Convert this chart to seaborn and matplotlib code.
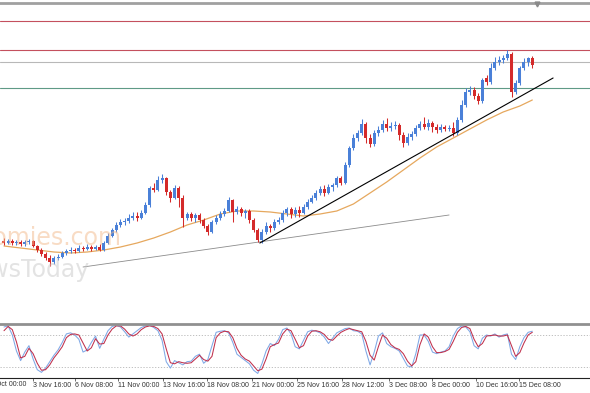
import numpy as np
import pandas as pd
import matplotlib
matplotlib.use("Agg")
import matplotlib.pyplot as plt
import matplotlib.transforms as mtransforms
import seaborn as sns

#%%
# candles (price in points), one per bar

opens = [159, 157, 159, 157, 158, 156, 158, 159, 154, 150,
         146, 142, 138, 142, 143, 147, 149, 150, 149, 152,
         151, 153, 151, 153, 150, 157, 164, 170, 175, 178,
         179, 182, 184, 182, 187, 195, 212, 210, 220, 222,
         208, 202, 212, 202, 182, 186, 182, 185, 180, 174,
         168, 178, 182, 186, 189, 200, 188, 191, 187, 189,
         180, 170, 160, 168, 174, 172, 178, 180, 187, 191,
         186, 190, 187, 193, 198, 202, 207, 211, 207, 213,
         215, 222, 217, 235, 252, 262, 267, 276, 262, 256,
         267, 270, 276, 272, 274, 275, 265, 257, 263, 266,
         272, 276, 273, 277, 273, 270, 273, 271, 272, 267,
         280, 295, 308, 310, 304, 299, 322, 318, 332, 338,
         340, 342, 346, 308, 317, 332, 338, 342]
highs = [162, 161, 161, 160, 160, 160, 161, 160, 155, 152,
         148, 145, 144, 146, 149, 151, 153, 152, 155, 154,
         156, 155, 155, 156, 159, 167, 172, 178, 181, 182,
         186, 188, 188, 190, 198, 214, 217, 224, 226, 223,
         210, 215, 214, 205, 188, 188, 187, 187, 182, 176,
         180, 185, 189, 192, 203, 201, 194, 193, 191, 191,
         182, 172, 171, 178, 176, 181, 183, 190, 193, 193,
         193, 194, 196, 201, 205, 210, 214, 215, 216, 217,
         224, 224, 238, 254, 266, 270, 281, 278, 266, 270,
         274, 280, 282, 278, 279, 277, 268, 267, 269, 275,
         279, 283, 281, 279, 276, 276, 275, 275, 278, 283,
         300, 312, 314, 313, 307, 322, 325, 337, 343, 344,
         345, 350, 348, 320, 334, 342, 343, 344]
lows = [155, 156, 155, 155, 154, 154, 156, 153, 148, 144,
        140, 134, 136, 140, 142, 145, 147, 147, 148, 149,
        150, 149, 150, 149, 149, 156, 163, 168, 173, 175,
        177, 180, 179, 181, 186, 193, 208, 209, 217, 205,
        198, 201, 193, 173, 180, 179, 178, 177, 172, 165,
        167, 176, 180, 184, 188, 178, 186, 184, 182, 177,
        168, 158, 157, 166, 168, 170, 176, 178, 184, 182,
        183, 183, 186, 191, 197, 200, 205, 204, 206, 209,
        213, 215, 216, 233, 250, 259, 265, 257, 253, 254,
        264, 268, 269, 269, 271, 260, 253, 255, 260, 264,
        270, 271, 270, 268, 267, 268, 269, 269, 264, 265,
        278, 293, 305, 301, 296, 297, 315, 316, 330, 335,
        337, 340, 303, 306, 315, 330, 334, 332]
closes = [157, 159, 157, 158, 156, 158, 159, 154, 150, 146,
          142, 138, 142, 143, 147, 149, 150, 149, 152, 151,
          153, 151, 153, 150, 157, 164, 170, 175, 178, 179,
          182, 184, 182, 187, 195, 212, 210, 220, 222, 208,
          202, 212, 202, 182, 186, 182, 185, 180, 174, 168,
          178, 182, 186, 189, 200, 188, 191, 187, 189, 180,
          170, 160, 168, 174, 172, 178, 180, 187, 191, 186,
          190, 187, 193, 198, 202, 207, 211, 207, 213, 215,
          222, 217, 235, 252, 262, 267, 276, 262, 256, 267,
          270, 276, 272, 274, 275, 265, 257, 263, 266, 272,
          276, 273, 277, 273, 270, 273, 271, 272, 267, 280,
          295, 308, 310, 304, 299, 320, 318, 332, 338, 340,
          342, 346, 308, 317, 332, 338, 342, 335]

# moving average (every 4th bar)
ma_bar = [0, 4, 8, 12, 16, 20, 24, 28, 32, 36, 40, 44, 48, 52, 56, 60,
          64, 68, 72, 76, 80, 84, 88, 92, 96, 100, 104, 108, 112, 116, 120, 124, 127]
ma_val = [154, 152, 150, 148, 147, 148, 150, 153, 157, 162, 168, 175, 180, 186, 189, 189,
          188, 186, 184, 186, 189, 196, 207, 218, 230, 242, 253, 262, 271, 280, 288, 294, 300]

# stochastic %K / %D
stoch_k = [95, 97, 80, 50, 32, 48, 60, 35, 15, 10, 18, 30, 42, 52, 66, 82,
           84, 80, 72, 48, 52, 66, 78, 55, 72, 88, 96, 98, 95, 86, 76, 82,
           88, 94, 97, 98, 94, 88, 70, 30, 18, 32, 28, 24, 30, 31, 40, 44,
           27, 34, 60, 85, 87, 88, 84, 66, 44, 38, 32, 26, 14, 8, 26, 50,
           64, 60, 72, 90, 93, 82, 58, 54, 70, 86, 89, 87, 84, 76, 64, 74,
           84, 88, 92, 93, 88, 87, 82, 50, 24, 48, 78, 84, 64, 58, 55, 50,
           36, 22, 20, 45, 80, 80, 68, 48, 45, 48, 50, 58, 78, 92, 97, 95,
           86, 60, 54, 74, 80, 78, 82, 76, 80, 82, 44, 34, 58, 75, 85, 87]
stoch_d = [88, 96, 90, 67, 37, 40, 55, 45, 27, 14, 15, 24, 37, 47, 58, 75,
           81, 82, 80, 65, 50, 56, 73, 63, 64, 80, 91, 97, 97, 91, 82, 78,
           82, 90, 95, 97, 96, 92, 82, 54, 28, 26, 30, 28, 27, 28, 35, 42,
           34, 31, 40, 75, 84, 87, 86, 75, 55, 42, 35, 31, 22, 13, 16, 35,
           58, 62, 65, 82, 91, 88, 72, 56, 60, 78, 87, 88, 86, 81, 72, 70,
           78, 85, 89, 92, 90, 88, 86, 68, 42, 33, 58, 80, 74, 62, 56, 53,
           45, 31, 22, 30, 62, 82, 76, 58, 47, 47, 49, 53, 68, 85, 94, 96,
           92, 72, 58, 64, 78, 79, 80, 78, 78, 80, 60, 40, 47, 65, 80, 85]

tick_pos = [7.0, 17.1, 27.4, 38.2, 48.8, 59.6, 70.4, 81.3, 92.5, 102.9, 113.5, 123.8]
tick_labels = ["3 Nov 16:00", "6 Nov 08:00", "11 Nov 00:00", "13 Nov 16:00",
               "18 Nov 08:00", "21 Nov 00:00", "25 Nov 16:00", "28 Nov 12:00", "3 Dec 08:00",
               "8 Dec 00:00", "10 Dec 16:00", "15 Dec 08:00"]
first_pos = -4.4
first_label = "31 Oct 00:00"

red_levels = [379, 350]
gray_level = 338
green_level = 312
trend_black = ([61.5, 132.0], [157, 322])
trend_gray = ([19.0, 107.0], [133, 185])

#%%

sns.set_style("white")
plt.rcParams['font.family'] = ['Liberation Sans', 'DejaVu Sans']

blue = '#4a80d8'
red = '#d42a2a'

fig = plt.figure(figsize=(5.9, 3.93), dpi=100)
H = 393.0
ax = fig.add_axes([0, 1 - 321 / H, 1, (321 - 2.5) / H])
osc = fig.add_axes([0, 1 - 377.7 / H, 1, (377.7 - 324.3) / H])

x_lim = (-0.96, 140.87)

#%%
# price panel

o = np.array(opens)
h = np.array(highs)
l = np.array(lows)
c = np.array(closes)
bars = np.arange(len(c))
cols = np.where(c >= o, blue, red)

for lv in red_levels:
    ax.axhline(lv, color='#c4505e', lw=0.8, zorder=1)
ax.axhline(gray_level, color='#b8b8b8', lw=0.8, zorder=1)
ax.axhline(green_level, color='#5f9a86', lw=0.8, zorder=1)

ax.vlines(bars, l, h, colors=cols, lw=0.75, zorder=3)
body = np.maximum(np.abs(c - o), 0.8)
ax.bar(bars, body, bottom=np.minimum(o, c), width=0.72, color=cols, lw=0, zorder=3)

ma = pd.DataFrame({'bar': ma_bar, 'ma': ma_val})
sns.lineplot(data=ma, x='bar', y='ma', ax=ax, color='#e6a85e', lw=0.9, zorder=2)

ax.plot(trend_black[0], trend_black[1], color='black', lw=0.8, zorder=4)
ax.plot(trend_gray[0], trend_gray[1], color='#8c8c8c', lw=0.6, zorder=2)

# chart shift marker
trans = mtransforms.blended_transform_factory(ax.transData, ax.transAxes)
ax.plot([128.1], [0.995], marker='v', ms=3.5, color='#8a8a8a', transform=trans,
        clip_on=False, zorder=5)

ax.set_xlim(*x_lim)
ax.set_ylim(79, 397.5)
ax.set_xticks([])
ax.set_yticks([])
ax.set_xlabel('')
ax.set_ylabel('')
for s in ['left', 'right', 'bottom']:
    ax.spines[s].set_visible(False)
ax.spines['top'].set_color('#a0a0a0')
ax.spines['top'].set_linewidth(2.0)

# watermark
fig.text(122 / 590, 1 - 238 / H, 'Economies.com', ha='right', va='center',
         fontsize=17, family='DejaVu Sans', color='#f2b98a', alpha=0.5, zorder=0)
fig.text(90 / 590, 1 - 270 / H, 'NewsToday', ha='right', va='center',
         fontsize=17, family='DejaVu Sans', color='#c8c8c8', alpha=0.5, zorder=0)

#%%
# stochastic panel

st = pd.DataFrame({'bar': bars, 'k': stoch_k, 'd': stoch_d})
osc.axhline(80, color='#b5b5b5', lw=0.6, ls=(0, (1.5, 2)))
osc.axhline(20, color='#b5b5b5', lw=0.6, ls=(0, (1.5, 2)))
sns.lineplot(data=st, x='bar', y='k', ax=osc, color='#7fa8e6', lw=0.75)
sns.lineplot(data=st, x='bar', y='d', ax=osc, color='#c0304c', lw=0.75)

osc.set_xlim(*x_lim)
osc.set_ylim(0, 100)
osc.set_yticks([])
osc.set_xlabel('')
osc.set_ylabel('')
osc.set_xticks(tick_pos)
osc.set_xticklabels(tick_labels, ha='left', fontsize=5, color='#333333')
osc.tick_params(axis='x', length=2, width=0.5, pad=1, color='#333333', bottom=True)
# first label starts left of the visible area
lab_trans = mtransforms.blended_transform_factory(osc.transData, osc.transAxes)
osc.text(first_pos, -0.055, first_label, transform=lab_trans, ha='left', va='top',
         fontsize=5, color='#333333', clip_on=False)

osc.spines['left'].set_visible(False)
osc.spines['right'].set_visible(False)
osc.spines['top'].set_color('#909090')
osc.spines['top'].set_linewidth(2.0)
osc.spines['bottom'].set_color('#222222')
osc.spines['bottom'].set_linewidth(0.8)

fig.savefig('out.png', dpi=100)
